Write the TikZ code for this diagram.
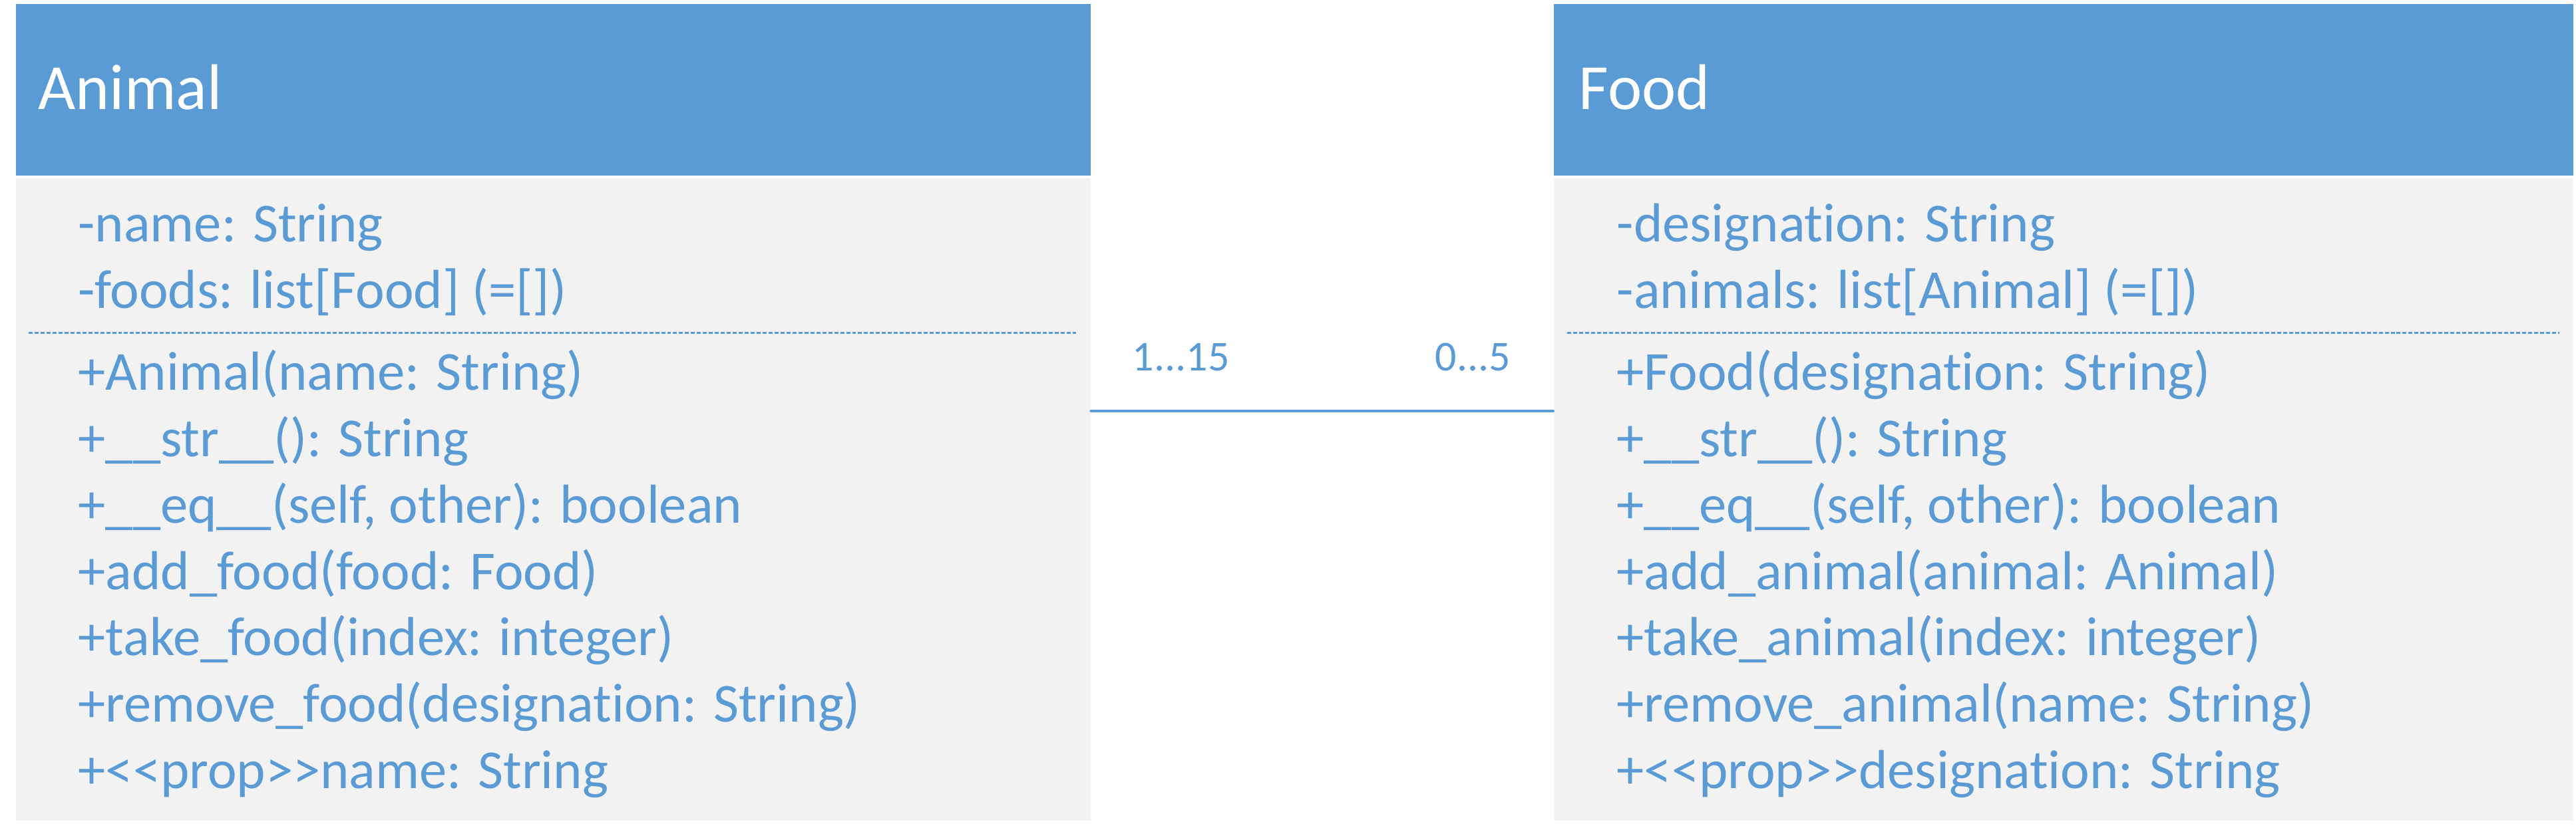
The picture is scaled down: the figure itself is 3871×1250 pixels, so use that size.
\documentclass[tikz,border=0pt]{standalone}
\usepackage{fontspec}
\setmainfont[Ligatures={NoCommon}]{Carlito}
\definecolor{umlblue}{HTML}{5B9BD5}
\definecolor{umlbody}{HTML}{F2F2F2}
\begin{document}
\begin{tikzpicture}[x=0.01cm,y=-0.01cm,
  headbox/.style={fill=umlblue, draw=none, inner sep=0pt, anchor=north west},
  bodybox/.style={fill=umlbody, draw=none, inner sep=0pt, anchor=north west},
  titletext/.style={text=white, font=\fontsize{27.6}{33}\selectfont, inner sep=0pt, anchor=base west},
  member/.style={text=umlblue, font=\fontsize{23.5}{28}\selectfont, inner sep=0pt, anchor=base west},
  mult/.style={text=umlblue, font=\fontsize{18.2}{22}\selectfont, inner sep=0pt, anchor=base west},
  dashsep/.style={draw=umlblue, line width=0.85pt, dash pattern=on 1.7pt off 0.85pt},
  assocline/.style={draw=umlblue, line width=1.1pt, line cap=round}]
\useasboundingbox (0,0) rectangle (3871,1250);
\fill[white] (0,0) rectangle (3871,1250);

% Animal class
\node[headbox, minimum width=16.14cm, minimum height=2.58cm] (animalHead) at (23,5) {};
\node[bodybox, minimum width=16.14cm, minimum height=9.66cm] (animalBody) at (23,267) {};
\node[titletext] (animalTitle) at (57,164) {Animal};
\node[member] (a1) at (117,363) {-name: String};
\node[member] (a2) at (117,463) {-foods: list[Food] (=[])};
\draw[dashsep] (43,500) -- (1617,500);
\node[member] (a3) at (117,586) {+Animal(name: String)};
\node[member] (a4) at (117,686) {+\_\_str\_\_(): String};
\node[member] (a5) at (117,786) {+\_\_eq\_\_(self, other): boolean};
\node[member] (a6) at (117,886) {+add\_food(food: Food)};
\node[member] (a7) at (117,985) {+take\_food(index: integer)};
\node[member] (a8) at (117,1085) {+remove\_food(designation: String)};
\node[member] (a9) at (117,1185) {+<\kern0pt<prop>\kern0pt>name: String};

% Food class
\node[headbox, minimum width=15.31cm, minimum height=2.58cm] (foodHead) at (2334,5) {};
\node[bodybox, minimum width=15.31cm, minimum height=9.66cm] (foodBody) at (2334,267) {};
\node[titletext] (foodTitle) at (2372,164) {Food};
\node[member] (f1) at (2429,363) {-designation: String};
\node[member] (f2) at (2429,463) {-animals: list[Animal] (=[])};
\draw[dashsep] (2355,500) -- (3846,500);
\node[member] (f3) at (2429,586) {+Food(designation: String)};
\node[member] (f4) at (2429,686) {+\_\_str\_\_(): String};
\node[member] (f5) at (2429,786) {+\_\_eq\_\_(self, other): boolean};
\node[member] (f6) at (2429,886) {+add\_animal(animal: Animal)};
\node[member] (f7) at (2429,985) {+take\_animal(index: integer)};
\node[member] (f8) at (2429,1085) {+remove\_animal(name: String)};
\node[member] (f9) at (2429,1185) {+<\kern0pt<prop>\kern0pt>designation: String};

% association
\coordinate (assocY) at (0,618);
\draw[assocline] (animalBody.east |- assocY) -- (foodBody.west |- assocY);
\node[mult] (m1) at (1701,557) {1...15};
\node[mult] (m2) at (2156,557) {0...5};
\end{tikzpicture}
\end{document}
